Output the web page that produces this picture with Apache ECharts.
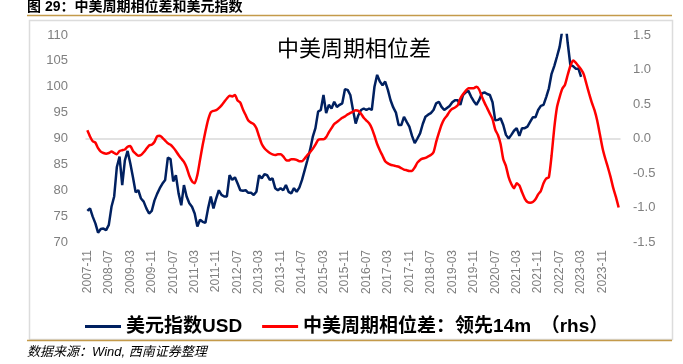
<!DOCTYPE html>
<html>
<head>
<meta charset="utf-8">
<script src="https://cdn.jsdelivr.net/npm/echarts@6/dist/echarts.min.js"></script>
<style>
    html, body { margin: 0; padding: 0; background: #fff; }
    #chart_Usd_Phase { width: 683px; height: 364px; }
</style>
</head>
<body>
<div id="chart_Usd_Phase"></div>
<script>
//月份起点
var startYear = 2007;
var startMonth = 11;

//美元指数USD (月度)
var usdValues = [
    76.0, 76.5, 74.9, 73.6, 71.8, 72.5, 72.6, 72.3, 73.3, 76.8,
    78.8, 84.5, 86.5, 81.0, 85.8, 87.6, 85.2, 82.5, 79.6, 80.0,
    78.4, 77.8, 76.5, 75.5, 76.0, 78.0, 79.3, 80.4, 81.3, 82.0,
    86.3, 86.0, 81.7, 82.9, 79.4, 77.1, 81.0, 78.8, 77.5, 76.8,
    75.5, 73.0, 74.3, 73.9, 73.7, 76.5, 78.8, 76.5, 78.4, 80.0,
    79.1, 78.8, 78.8, 82.9, 82.0, 82.5, 81.3, 80.0, 79.9, 80.0,
    79.5, 79.5, 79.1, 79.7, 82.9, 82.3, 83.1, 82.9, 82.0, 82.3,
    80.4, 80.0, 80.4, 80.0, 81.0, 79.7, 79.4, 80.4, 79.7, 80.5,
    82.0, 83.9, 85.8, 87.8, 90.3, 92.0, 95.2, 95.5, 98.4, 94.9,
    96.5, 95.8, 97.1, 96.1, 96.5, 96.8, 99.5, 99.4, 98.4, 95.5,
    92.9, 94.5, 95.5, 95.8, 95.5, 95.8, 95.5, 100.0, 102.3, 101.0,
    100.3, 101.0, 99.4, 97.4, 96.0, 95.0, 92.6, 92.6, 94.2, 93.2,
    92.3, 90.5, 89.1, 90.0, 91.0, 92.8, 94.2, 94.6, 94.9, 95.5,
    96.8, 97.1, 96.1, 95.5, 95.9, 96.3, 97.0, 97.4, 97.4, 96.5,
    98.4, 98.9, 99.2, 98.1, 97.2, 96.5, 97.4, 98.7, 98.9, 98.6,
    98.4, 97.0, 93.5, 93.6, 93.9, 92.6, 90.7, 90.0, 90.7, 91.5,
    92.0, 90.5, 92.0, 92.0, 92.3, 93.2, 94.1, 94.1, 95.5, 96.3,
    96.5, 98.0, 99.7, 102.5, 104.0, 105.8, 107.7, 111.0, 113.5, 108.5,
    104.2, 104.0, 103.5, 103.5, 101.9
];

//中美周期相位差：领先14m (右轴)
var phaseValues = [
    0.12, 0.03, -0.04, -0.06, -0.14, -0.19, -0.21, -0.22, -0.21, -0.19,
    -0.21, -0.23, -0.18, -0.17, -0.16, -0.12, -0.11, -0.18, -0.22, -0.25,
    -0.24, -0.20, -0.15, -0.10, -0.09, -0.05, 0.03, 0.04, 0.01, -0.03,
    -0.07, -0.09, -0.13, -0.18, -0.24, -0.29, -0.34, -0.42, -0.54, -0.62,
    -0.65, -0.53, -0.31, -0.09, 0.10, 0.27, 0.38, 0.40, 0.41, 0.44,
    0.48, 0.53, 0.58, 0.62, 0.61, 0.63, 0.55, 0.52, 0.42, 0.34,
    0.26, 0.23, 0.21, 0.15, 0.03, -0.08, -0.14, -0.18, -0.21, -0.23,
    -0.24, -0.23, -0.23, -0.26, -0.31, -0.32, -0.30, -0.30, -0.31, -0.33,
    -0.33, -0.29, -0.24, -0.20, -0.15, -0.09, -0.02, -0.01, -0.01, 0.02,
    0.09, 0.15, 0.21, 0.24, 0.27, 0.30, 0.32, 0.35, 0.37, 0.39,
    0.41, 0.40, 0.36, 0.30, 0.26, 0.22, 0.15, 0.04, -0.08, -0.17,
    -0.25, -0.33, -0.36, -0.38, -0.39, -0.40, -0.41, -0.43, -0.45, -0.46,
    -0.47, -0.47, -0.42, -0.35, -0.31, -0.29, -0.28, -0.26, -0.24, -0.20,
    -0.05, 0.08, 0.20, 0.28, 0.33, 0.39, 0.43, 0.45, 0.48, 0.58,
    0.64, 0.69, 0.73, 0.73, 0.73, 0.75, 0.71, 0.61, 0.52, 0.44,
    0.36, 0.28, 0.13, 0.05, -0.08, -0.30, -0.40, -0.56, -0.66, -0.72,
    -0.65, -0.68, -0.78, -0.87, -0.92, -0.93, -0.92, -0.88, -0.81, -0.76,
    -0.65, -0.58, -0.56, -0.25, 0.15, 0.45, 0.60, 0.72, 0.78, 0.92,
    1.05, 1.13, 1.10, 1.05, 1.00, 0.93, 0.79, 0.65, 0.52, 0.41,
    0.26, 0.06, -0.14, -0.29, -0.42, -0.56, -0.72, -0.85, -1.00
];

var seriesNames = ['美元指数USD', '中美周期相位差：领先14m　（rhs）'];

//月份标签
var months = [];
for (var i = 0; i < phaseValues.length; i++) {
    var m = startMonth - 1 + i;
    var y = startYear + Math.floor(m / 12);
    var mm = (m % 12) + 1;
    months.push(y + '-' + (mm < 10 ? '0' + mm : mm));
}

var chart_Usd_Phase = echarts.init(document.getElementById('chart_Usd_Phase'));

var option = {
    animation: false,
    backgroundColor: '#fff',
    title: {
        text: '中美周期相位差',
        left: 272,
        top: 32,
        textStyle: {
            fontFamily: 'Noto Sans CJK SC',
            fontSize: 22,
            fontWeight: 'normal',
            color: '#000'
        }
    },
    grid: {
        left: 86,
        right: 63,
        top: 35,
        bottom: 122
    },
    legend: {
        left: 80,
        top: 312,
        icon: 'rect',
        itemWidth: 36,
        itemHeight: 3,
        itemGap: 20,
        textStyle: {
            fontFamily: 'Liberation Sans, Noto Sans CJK SC',
            fontSize: 19,
            fontWeight: 'bold',
            color: '#000'
        },
        data: seriesNames
    },
    xAxis: {
        type: 'category',
        data: months,
        axisLine: { lineStyle: { color: '#d9d9d9', width: 1.5 } },
        axisTick: { show: false },
        axisLabel: {
            interval: 7,
            rotate: 90,
            margin: 8,
            color: '#7f7f7f',
            fontSize: 12,
            fontFamily: 'Liberation Sans'
        }
    },
    yAxis: [{
        type: 'value',
        min: 70,
        max: 110,
        interval: 5,
        splitLine: { show: false },
        axisLine: { show: false },
        axisLabel: {
            margin: 18,
            color: '#7f7f7f',
            fontSize: 13,
            fontFamily: 'Liberation Sans'
        }
    }, {
        type: 'value',
        min: -1.5,
        max: 1.5,
        interval: 0.5,
        splitLine: { show: false },
        axisLine: { show: false },
        axisLabel: {
            margin: 13,
            color: '#7f7f7f',
            fontSize: 13,
            fontFamily: 'Liberation Sans',
            formatter: function (v) {
                return v.toFixed(1);
            }
        }
    }],
    series: [{
        name: seriesNames[0],
        type: 'line',
        yAxisIndex: 0,
        data: usdValues,
        symbol: 'none',
        clip: true,
        lineStyle: { color: '#002060', width: 2.5 },
        itemStyle: { color: '#002060' }
    }, {
        name: seriesNames[1],
        type: 'line',
        yAxisIndex: 1,
        data: phaseValues,
        symbol: 'none',
        smooth: 0.2,
        lineStyle: { color: '#ff0000', width: 2.5 },
        itemStyle: { color: '#ff0000' }
    }],
    graphic: [{
        //图表编号标题
        type: 'text',
        left: 27,
        top: 0,
        style: {
            text: '图 29：中美周期相位差和美元指数',
            font: 'bold 14px "Liberation Sans", "Noto Sans CJK SC"',
            fill: '#000'
        }
    }, {
        type: 'line',
        shape: { x1: 27, y1: 15.5, x2: 672, y2: 15.5 },
        style: { stroke: '#c49a4a', lineWidth: 1.5 }
    }, {
        type: 'rect',
        shape: { x: 29.5, y: 20.5, width: 643, height: 319 },
        style: { fill: 'none', stroke: '#dcdcdc', lineWidth: 1.5 }
    }, {
        type: 'line',
        shape: { x1: 27, y1: 340.5, x2: 672, y2: 340.5 },
        style: { stroke: '#c49a4a', lineWidth: 1.5 }
    }, {
        //数据来源
        type: 'text',
        left: 27,
        top: 346,
        style: {
            text: '数据来源：Wind, 西南证券整理',
            font: 'italic 13px "Liberation Sans", "Noto Sans CJK SC"',
            fill: '#000'
        }
    }]
};

chart_Usd_Phase.setOption(option);
</script>
</body>
</html>
